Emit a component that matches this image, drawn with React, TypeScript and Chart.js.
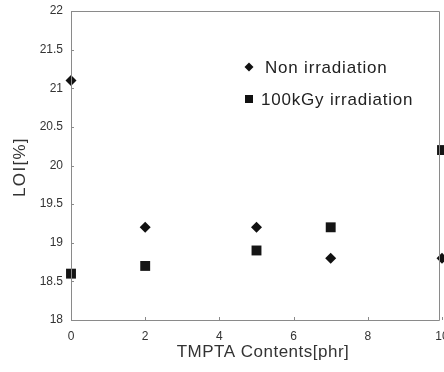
import React, { useEffect, useRef } from "react";
import { Chart, registerables } from "chart.js";

Chart.register(...registerables);

const nonIrrX = [0, 2, 5, 7, 10];
const nonIrrY = [21.1, 19.2, 19.2, 18.8, 18.8];
const irrX = [0, 2, 5, 7, 10];
const irrY = [18.6, 18.7, 18.9, 19.2, 20.2];
const xTicks = [0, 2, 4, 6, 8, 10];
const yTicks = [18, 18.5, 19, 19.5, 20, 20.5, 21, 21.5, 22];
const seriesNames = ["Non irradiation", "100kGy irradiation"];
const xTitle = "TMPTA Contents[phr]";
const yTitle = "LOI[%]";

const FONT = "'Liberation Sans', Arial, sans-serif";

export default function App() {
  const ref = useRef<HTMLCanvasElement | null>(null);
  useEffect(() => {
    if (!ref.current) return;
    const decor = {
      id: "decor",
      afterDraw(chart: any) {
        const ctx = chart.ctx;
        const a = chart.chartArea;
        const xs = chart.scales.x;
        const ys = chart.scales.y;
        ctx.save();
        ctx.strokeStyle = "#8a8a8a";
        ctx.lineWidth = 1;
        ctx.beginPath();
        ctx.moveTo(a.left + 0.5, a.bottom + 0.5);
        ctx.lineTo(a.left + 0.5, a.top + 0.5);
        ctx.lineTo(439.5, a.top + 0.5);
        ctx.lineTo(439.5, a.bottom + 0.5);
        ctx.closePath();
        ctx.stroke();
        ctx.beginPath();
        for (const t of xTicks) {
          const px = Math.round(xs.getPixelForValue(t)) + 0.5;
          ctx.moveTo(px, a.bottom);
          ctx.lineTo(px, a.bottom - 3);
        }
        for (const t of yTicks) {
          const py = Math.round(ys.getPixelForValue(t)) + 0.5;
          ctx.moveTo(a.left, py);
          ctx.lineTo(a.left + 3, py);
        }
        ctx.stroke();
        // x tick labels
        ctx.fillStyle = "#333";
        ctx.font = `12px ${FONT}`;
        ctx.textAlign = "center";
        ctx.textBaseline = "middle";
        for (const t of xTicks) {
          ctx.fillText(String(t), xs.getPixelForValue(t), 337);
        }
        // titles
        ctx.font = `17px ${FONT}`;
        (ctx as any).letterSpacing = "0.5px";
        ctx.fillText(xTitle, 263, 352);
        ctx.save();
        ctx.translate(20, 167);
        ctx.rotate(-Math.PI / 2);
        (ctx as any).letterSpacing = "1.3px";
        ctx.fillText(yTitle, 0, 0);
        ctx.restore();
        // legend
        ctx.fillStyle = "#111";
        ctx.beginPath();
        ctx.moveTo(249, 62.5);
        ctx.lineTo(253.5, 67);
        ctx.lineTo(249, 71.5);
        ctx.lineTo(244.5, 67);
        ctx.closePath();
        ctx.fill();
        ctx.fillRect(245, 95, 8, 8);
        ctx.fillStyle = "#222";
        ctx.font = `17px ${FONT}`;
        ctx.textAlign = "left";
        (ctx as any).letterSpacing = "0.8px";
        ctx.fillText(seriesNames[0], 265, 68);
        ctx.fillText(seriesNames[1], 261, 100);
        ctx.restore();
      },
    };
    const chart = new Chart(ref.current, {
      type: "scatter",
      data: {
        datasets: [
          {
            label: seriesNames[0],
            data: nonIrrX.map((x, i) => ({ x, y: nonIrrY[i] })),
            pointStyle: "rectRot",
            pointRadius: 5.5,
            backgroundColor: "#111",
            borderColor: "#111",
            borderWidth: 0,
            clip: false,
          },
          {
            label: seriesNames[1],
            data: irrX.map((x, i) => ({ x, y: irrY[i] })),
            pointStyle: "rect",
            pointRadius: 7,
            backgroundColor: "#151515",
            borderColor: "#151515",
            borderWidth: 0,
            clip: false,
          },
        ],
      },
      options: {
        animation: false,
        responsive: false,
        maintainAspectRatio: false,
        layout: { autoPadding: false, padding: { left: 0, top: 11, right: 2, bottom: 0 } },
        plugins: { legend: { display: false }, tooltip: { enabled: false } },
        scales: {
          x: {
            type: "linear",
            min: 0,
            max: 10,
            afterFit: (s: any) => {
              s.height = 52;
              s.paddingLeft = 0;
              s.paddingRight = 0;
            },
            afterBuildTicks: (s: any) => {
              s.ticks = xTicks.map((v) => ({ value: v }));
            },
            grid: { display: false, drawTicks: false, tickLength: 0 },
            border: { display: false },
            ticks: { display: false },
          },
          y: {
            type: "linear",
            min: 18,
            max: 22,
            afterFit: (s: any) => {
              s.width = 71;
              s.paddingTop = 0;
              s.paddingBottom = 0;
            },
            afterBuildTicks: (s: any) => {
              s.ticks = yTicks.map((v) => ({ value: v }));
            },
            grid: { display: false, drawTicks: false, tickLength: 0 },
            border: { display: false },
            ticks: {
              padding: 8,
              color: "#333",
              font: { family: FONT, size: 12 },
              callback: (v: any) => String(v),
            },
          },
        },
      },
      plugins: [decor],
    } as any);
    return () => chart.destroy();
  }, []);
  return (
    <div style={{ position: "absolute", left: 0, top: 0, width: 444, height: 372, background: "#fff" }}>
      <canvas ref={ref} width={444} height={372} style={{ width: 444, height: 372 }} />
    </div>
  );
}
